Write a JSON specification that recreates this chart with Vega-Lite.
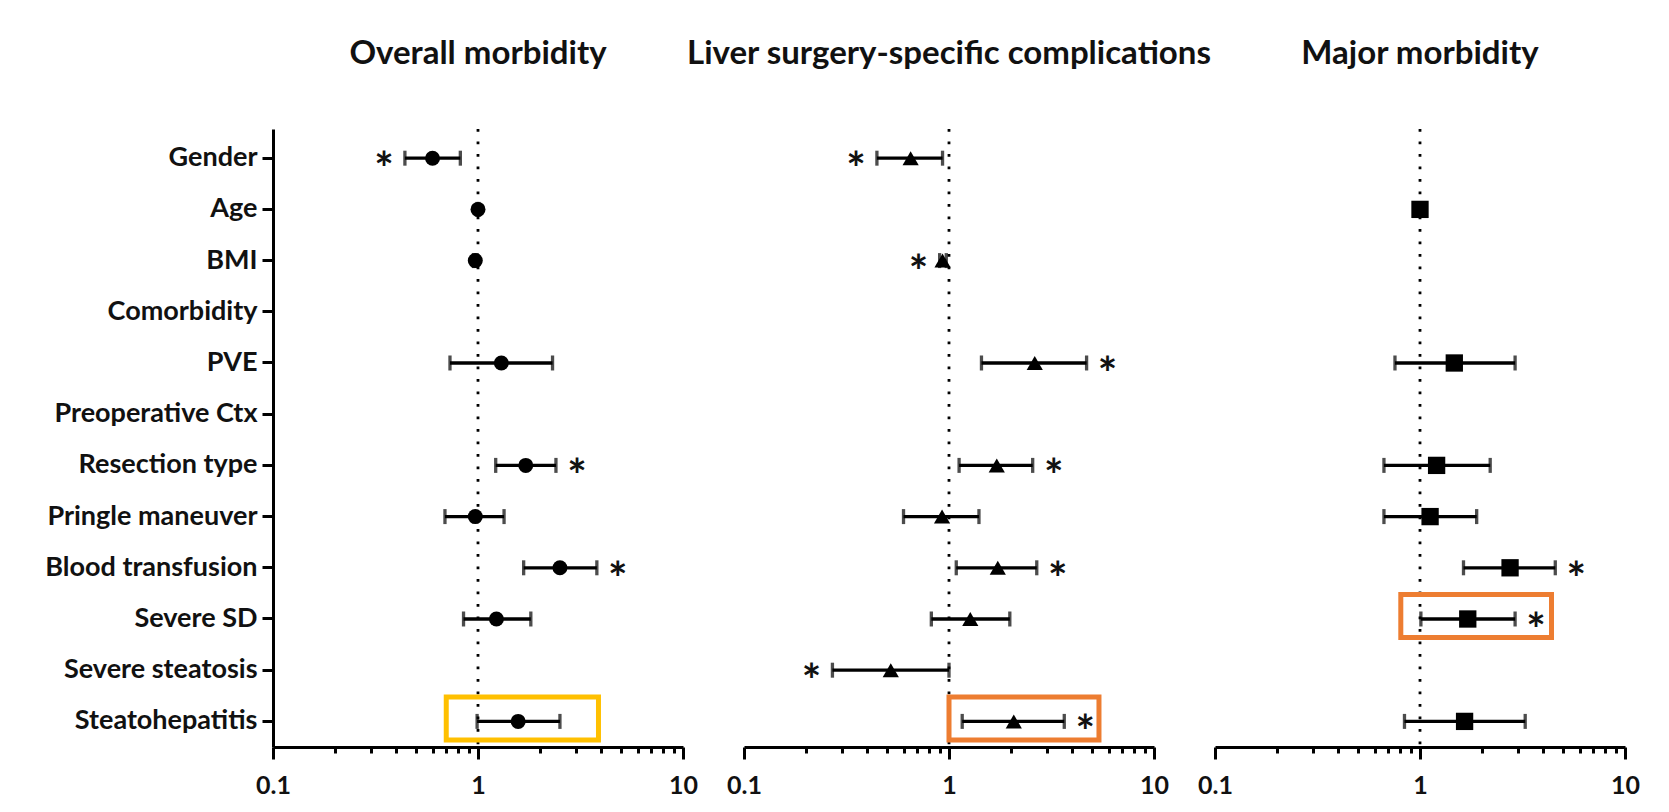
{
  "$schema": "https://vega.github.io/schema/vega-lite/v6.json",
  "background": "white",
  "padding": {"left": 44, "top": 38, "right": 10, "bottom": 10},
  "bounds": "flush",
  "data": {
    "values": [
      {"panel": "Overall morbidity", "factor": "Gender", "or": 0.60, "lo": 0.44, "hi": 0.82, "star": "left"},
      {"panel": "Overall morbidity", "factor": "Age", "or": 1.0, "lo": 0.99, "hi": 1.01, "star": ""},
      {"panel": "Overall morbidity", "factor": "BMI", "or": 0.97, "lo": 0.95, "hi": 0.99, "star": ""},
      {"panel": "Overall morbidity", "factor": "PVE", "or": 1.30, "lo": 0.73, "hi": 2.31, "star": ""},
      {"panel": "Overall morbidity", "factor": "Resection type", "or": 1.71, "lo": 1.22, "hi": 2.40, "star": "right"},
      {"panel": "Overall morbidity", "factor": "Pringle maneuver", "or": 0.97, "lo": 0.69, "hi": 1.34, "star": ""},
      {"panel": "Overall morbidity", "factor": "Blood transfusion", "or": 2.51, "lo": 1.67, "hi": 3.80, "star": "right"},
      {"panel": "Overall morbidity", "factor": "Severe SD", "or": 1.23, "lo": 0.85, "hi": 1.81, "star": ""},
      {"panel": "Overall morbidity", "factor": "Steatohepatitis", "or": 1.57, "lo": 0.99, "hi": 2.51, "star": "", "box_lo": 0.70, "box_hi": 3.87},
      {"panel": "Liver surgery-specific complications", "factor": "Gender", "or": 0.65, "lo": 0.445, "hi": 0.93, "star": "left"},
      {"panel": "Liver surgery-specific complications", "factor": "BMI", "or": 0.93, "lo": 0.90, "hi": 0.97, "star": "left"},
      {"panel": "Liver surgery-specific complications", "factor": "PVE", "or": 2.62, "lo": 1.44, "hi": 4.69, "star": "right"},
      {"panel": "Liver surgery-specific complications", "factor": "Resection type", "or": 1.71, "lo": 1.12, "hi": 2.56, "star": "right"},
      {"panel": "Liver surgery-specific complications", "factor": "Pringle maneuver", "or": 0.925, "lo": 0.60, "hi": 1.40, "star": ""},
      {"panel": "Liver surgery-specific complications", "factor": "Blood transfusion", "or": 1.73, "lo": 1.085, "hi": 2.68, "star": "right"},
      {"panel": "Liver surgery-specific complications", "factor": "Severe SD", "or": 1.27, "lo": 0.82, "hi": 1.98, "star": ""},
      {"panel": "Liver surgery-specific complications", "factor": "Severe steatosis", "or": 0.52, "lo": 0.27, "hi": 1.0, "star": "left"},
      {"panel": "Liver surgery-specific complications", "factor": "Steatohepatitis", "or": 2.07, "lo": 1.16, "hi": 3.65, "star": "right", "box_lo": 1.0, "box_hi": 5.39},
      {"panel": "Major morbidity", "factor": "Age", "or": 1.0, "lo": 0.99, "hi": 1.01, "star": ""},
      {"panel": "Major morbidity", "factor": "PVE", "or": 1.47, "lo": 0.755, "hi": 2.91, "star": ""},
      {"panel": "Major morbidity", "factor": "Resection type", "or": 1.205, "lo": 0.667, "hi": 2.2, "star": ""},
      {"panel": "Major morbidity", "factor": "Pringle maneuver", "or": 1.12, "lo": 0.667, "hi": 1.89, "star": ""},
      {"panel": "Major morbidity", "factor": "Blood transfusion", "or": 2.75, "lo": 1.63, "hi": 4.57, "star": "right"},
      {"panel": "Major morbidity", "factor": "Severe SD", "or": 1.71, "lo": 1.01, "hi": 2.91, "star": "right", "box_lo": 0.806, "box_hi": 4.38},
      {"panel": "Major morbidity", "factor": "Steatohepatitis", "or": 1.65, "lo": 0.84, "hi": 3.26, "star": ""}
    ]
  },
  "facet": {
    "column": {
      "field": "panel",
      "type": "nominal",
      "sort": ["Overall morbidity", "Liver surgery-specific complications", "Major morbidity"],
      "title": null,
      "header": {
        "labelFont": "Lato",
        "labelFontSize": 33,
        "labelFontWeight": "bold",
        "labelColor": "#111111",
        "labelPadding": 58
      }
    }
  },
  "spacing": 61,
  "resolve": {"axis": {"x": "independent"}},
  "spec": {
    "width": 410,
    "height": 618,
    "encoding": {
      "y": {
        "field": "factor",
        "type": "nominal",
        "title": null,
        "scale": {
          "domain": ["Gender", "Age", "BMI", "Comorbidity", "PVE", "Preoperative Ctx", "Resection type", "Pringle maneuver", "Blood transfusion", "Severe SD", "Severe steatosis", "Steatohepatitis"],
          "type": "band",
          "paddingInner": 0,
          "paddingOuter": 0.035,
          "align": 1
        },
        "axis": {
          "domainColor": "black",
          "domainWidth": 3,
          "tickColor": "black",
          "tickWidth": 3,
          "tickSize": 11,
          "labelPadding": 5,
          "labelFont": "Lato",
          "labelFontSize": 27,
          "labelFontWeight": "bold",
          "labelColor": "#111111",
          "labelLimit": 400
        }
      }
    },
    "layer": [
      {
        "transform": [{"aggregate": [{"op": "count", "as": "n"}], "groupby": ["panel"]}],
        "mark": {"type": "rule", "color": "black", "strokeWidth": 2.8, "strokeDash": [2.8, 9.7]},
        "encoding": {
          "x": {"datum": 1, "type": "quantitative", "scale": {"type": "log", "domain": [0.1, 10], "nice": false}},
          "y": null
        }
      },
      {
        "mark": {"type": "rect", "filled": false, "strokeWidth": 5, "height": {"band": 0.84}, "yOffset": -3},
        "encoding": {
          "x": {"field": "box_lo", "type": "quantitative"},
          "x2": {"field": "box_hi"},
          "stroke": {
            "field": "panel",
            "type": "nominal",
            "scale": {"domain": ["Overall morbidity", "Liver surgery-specific complications", "Major morbidity"], "range": ["#FFC000", "#ED7D31", "#ED7D31"]},
            "legend": null
          }
        }
      },
      {
        "mark": {"type": "rule", "color": "black", "strokeWidth": 3.3},
        "encoding": {
          "x": {"field": "lo", "type": "quantitative"},
          "x2": {"field": "hi"}
        }
      },
      {
        "mark": {"type": "tick", "color": "black", "thickness": 3.3, "size": 15, "orient": "vertical"},
        "encoding": {"x": {"field": "lo", "type": "quantitative"}}
      },
      {
        "mark": {"type": "tick", "color": "black", "thickness": 3.3, "size": 15, "orient": "vertical"},
        "encoding": {"x": {"field": "hi", "type": "quantitative"}}
      },
      {
        "mark": {"type": "point", "filled": true, "color": "black", "opacity": 1},
        "encoding": {
          "x": {
            "field": "or",
            "type": "quantitative",
            "title": null,
            "scale": {"type": "log", "domain": [0.1, 10], "nice": false},
            "axis": {
              "values": [0.1, 0.2, 0.3, 0.4, 0.5, 0.6, 0.7, 0.8, 0.9, 1, 2, 3, 4, 5, 6, 7, 8, 9, 10],
              "format": "~g",
              "labelExpr": "indexof(['0.1','1','10'], datum.label) >= 0 ? datum.label : ''",
              "grid": false,
              "domainColor": "black",
              "domainWidth": 3,
              "tickColor": "black",
              "tickWidth": 3,
              "tickSize": {"condition": {"test": "indexof([0.1, 1, 10], datum.value) >= 0", "value": 12}, "value": 6},
              "labelPadding": 14,
              "labelFont": "Lato",
              "labelFontSize": 25,
              "labelFontWeight": "bold",
              "labelColor": "#111111",
              "labelFlush": false,
              "labelOverlap": false
            }
          },
          "shape": {
            "field": "panel",
            "type": "nominal",
            "scale": {"domain": ["Overall morbidity", "Liver surgery-specific complications", "Major morbidity"], "range": ["circle", "triangle-up", "square"]},
            "legend": null
          },
          "size": {
            "field": "panel",
            "type": "nominal",
            "scale": {"domain": ["Overall morbidity", "Liver surgery-specific complications", "Major morbidity"], "range": [225, 300, 290]},
            "legend": null
          }
        }
      },
      {
        "transform": [{"filter": "datum.star == 'left'"}],
        "mark": {"type": "text", "text": "*", "font": "Lato", "fontSize": 46, "fontWeight": "bold", "color": "#111111", "dx": -21, "dy": 13, "baseline": "middle", "align": "center"},
        "encoding": {"x": {"field": "lo", "type": "quantitative"}}
      },
      {
        "transform": [{"filter": "datum.star == 'right'"}],
        "mark": {"type": "text", "text": "*", "font": "Lato", "fontSize": 46, "fontWeight": "bold", "color": "#111111", "dx": 21, "dy": 13, "baseline": "middle", "align": "center"},
        "encoding": {"x": {"field": "hi", "type": "quantitative"}}
      }
    ]
  },
  "config": {
    "view": {"stroke": null},
    "axis": {"grid": false}
  }
}
